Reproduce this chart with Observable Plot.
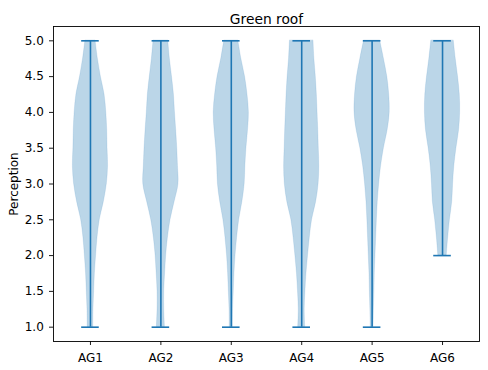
<!DOCTYPE html>
<html>
<head>
<meta charset="utf-8">
<script src="https://cdn.jsdelivr.net/npm/d3@7"></script>
<script src="https://cdn.jsdelivr.net/npm/@observablehq/plot@0.6"></script>
<style>
  html, body { margin: 0; padding: 0; background: white; }
</style>
</head>
<body>
<div id="chart"></div>
<script>
const title = "Green roof";
const yLabel = "Perception";
const groups = ["AG1", "AG2", "AG3", "AG4", "AG5", "AG6"];
const mins = [1, 1, 1, 1, 1, 2];
const maxes = [5, 5, 5, 5, 5, 5];
const yTicks = [1.0, 1.5, 2.0, 2.5, 3.0, 3.5, 4.0, 4.5, 5.0];

// density profile levels (top to bottom) and relative half-widths
const levels = [5.0, 4.75, 4.5, 4.25, 4.0, 3.75, 3.5, 3.25, 3.0, 2.75, 2.5, 2.25, 2.0, 1.75, 1.5, 1.25, 1.0];
const ag1Width = [0.29, 0.42, 0.59, 0.80, 0.90, 0.95, 0.97, 1.00, 0.93, 0.76, 0.53, 0.40, 0.32, 0.25, 0.21, 0.17, 0.16];
const ag2Width = [0.42, 0.51, 0.63, 0.74, 0.80, 0.87, 0.93, 0.97, 1.00, 0.78, 0.55, 0.40, 0.30, 0.24, 0.19, 0.19, 0.23];
const ag3Width = [0.40, 0.57, 0.78, 0.92, 1.00, 0.95, 0.86, 0.80, 0.76, 0.63, 0.45, 0.33, 0.24, 0.18, 0.14, 0.10, 0.09];
const ag4Width = [0.67, 0.72, 0.80, 0.86, 0.90, 0.94, 0.97, 1.00, 0.96, 0.82, 0.59, 0.46, 0.36, 0.27, 0.21, 0.17, 0.20];
const ag5Width = [0.46, 0.67, 0.86, 0.97, 1.00, 0.88, 0.67, 0.51, 0.40, 0.32, 0.27, 0.23, 0.19, 0.15, 0.13, 0.10, 0.08];
const ag6Width = [0.64, 0.75, 0.88, 0.98, 1.00, 0.94, 0.79, 0.67, 0.60, 0.55, 0.42, 0.32, 0.24];
const widths = [ag1Width, ag2Width, ag3Width, ag4Width, ag5Width, ag6Width];

const C0 = "#1f77b4";
const maxHalf = 0.25; // half of violin width 0.5
const capHalf = 0.125;

const violinData = [];
widths.forEach((ws, i) => {
  ws.forEach((w, j) => {
    violinData.push({pos: i + 1, y: levels[j], w: w * maxHalf});
  });
});
const statData = groups.map((g, i) => ({pos: i + 1, min: mins[i], max: maxes[i]}));

const chart = Plot.plot({
  width: 488,
  height: 370,
  marginTop: 26,
  marginBottom: 29,
  marginLeft: 53,
  marginRight: 9,
  style: {fontFamily: "DejaVu Sans", fontSize: "12px", color: "black", background: "white"},
  x: {domain: [0.475, 6.525]},
  y: {domain: [0.8, 5.2]},
  marks: [
    Plot.areaX(violinData, {
      y: "y",
      x1: d => d.pos - d.w,
      x2: d => d.pos + d.w,
      z: "pos",
      fill: C0,
      fillOpacity: 0.3,
      stroke: C0,
      strokeOpacity: 0.12,
      strokeWidth: 1,
      curve: "catmull-rom"
    }),
    Plot.ruleX(statData, {x: "pos", y1: "min", y2: "max", stroke: C0, strokeWidth: 1.6}),
    Plot.ruleY(statData, {y: "max", x1: d => d.pos - capHalf, x2: d => d.pos + capHalf, stroke: C0, strokeWidth: 1.6}),
    Plot.ruleY(statData, {y: "min", x1: d => d.pos - capHalf, x2: d => d.pos + capHalf, stroke: C0, strokeWidth: 1.6}),
    Plot.axisY({ticks: yTicks, tickFormat: d3.format(".1f"), tickSize: 4, tickPadding: 5.7, label: null, strokeWidth: 0.9}),
    Plot.axisX({ticks: groups.map((g, i) => i + 1), tickFormat: d => groups[d - 1], tickSize: 4, tickPadding: 8, label: null, strokeWidth: 0.9}),
    Plot.frame({stroke: "black", strokeWidth: 0.9}),
    Plot.text([title], {frameAnchor: "top", dy: -12, fontSize: 13.8, fill: "black"}),
    Plot.text([yLabel], {frameAnchor: "left", textAnchor: "middle", dx: -39.3, rotate: -90, fontSize: 12, fill: "black"})
  ]
});
document.getElementById("chart").appendChild(chart);
</script>
</body>
</html>
